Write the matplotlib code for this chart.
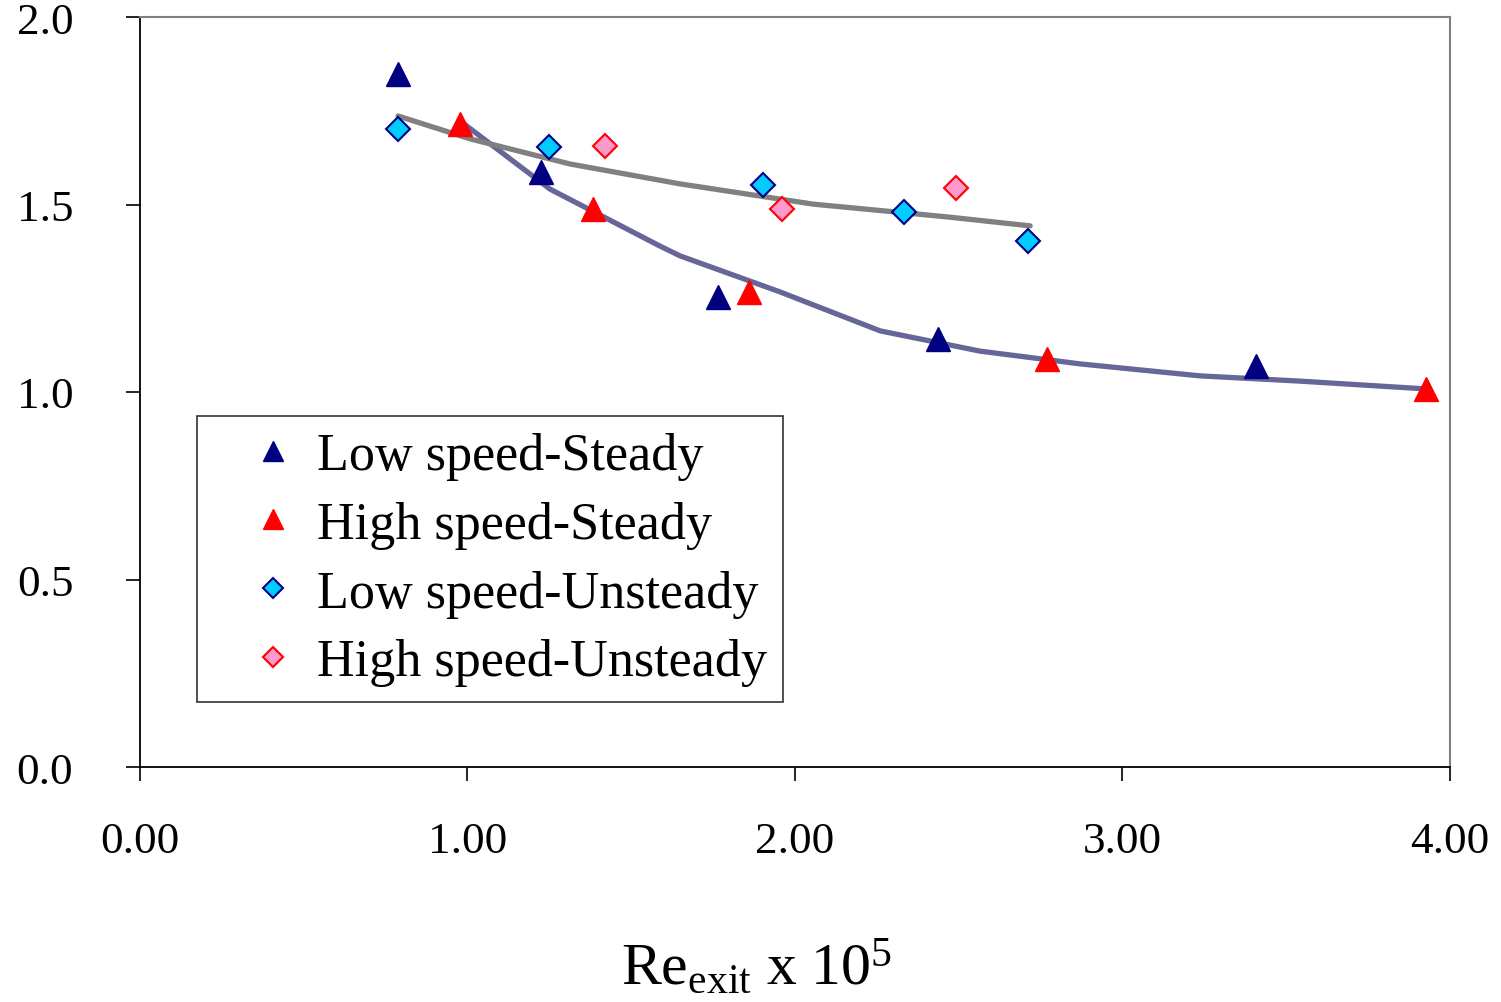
import numpy as np
import matplotlib.pyplot as plt

plt.rcParams['font.family'] = ['Liberation Serif', 'DejaVu Serif']
plt.rcParams['mathtext.fontset'] = 'custom'
plt.rcParams['mathtext.rm'] = 'Liberation Serif'
plt.rcParams['mathtext.it'] = 'Liberation Serif:italic'

# ---- data ----
low_steady_x = [0.788, 1.224, 1.765, 2.437, 3.408]
low_steady_y = [1.848, 1.587, 1.253, 1.141, 1.069]

high_steady_x = [0.977, 1.383, 1.860, 2.769, 3.927]
high_steady_y = [1.715, 1.488, 1.267, 1.088, 1.008]

low_unsteady_x = [0.788, 1.249, 1.902, 2.333, 2.711]
low_unsteady_y = [1.701, 1.653, 1.552, 1.480, 1.403]

high_unsteady_x = [1.420, 1.960, 2.492]
high_unsteady_y = [1.656, 1.488, 1.544]

# trend lines
steady_fit_x = [0.977, 1.252, 1.588, 1.649, 1.954, 2.260, 2.565, 2.870, 3.237, 3.542, 3.930]
steady_fit_y = [1.723, 1.541, 1.389, 1.363, 1.267, 1.163, 1.109, 1.075, 1.043, 1.029, 1.008]

unsteady_fit_x = [0.788, 1.008, 1.313, 1.649, 2.055, 2.464, 2.718]
unsteady_fit_y = [1.736, 1.675, 1.608, 1.555, 1.501, 1.467, 1.443]

x_ticks = [0, 1, 2, 3, 4]
y_ticks = [0.0, 0.5, 1.0, 1.5, 2.0]

# ---- figure ----
fig = plt.figure(figsize=(15.01, 10.03), dpi=100)
ax = fig.add_axes([140 / 1501, 1 - 768 / 1003, 1310 / 1501, 750 / 1003])

ax.plot(steady_fit_x, steady_fit_y, color='#666699', lw=3.8, solid_capstyle='round',
        solid_joinstyle='round', zorder=2)
ax.plot(unsteady_fit_x, unsteady_fit_y, color='#808080', lw=3.8, solid_capstyle='round',
        solid_joinstyle='round', zorder=2)

ax.plot(low_steady_x, low_steady_y, ls='none', marker='^', ms=17, color='#000080',
        mec='#000080', label='Low speed-Steady', zorder=3)
ax.plot(high_steady_x, high_steady_y, ls='none', marker='^', ms=17, color='#FF0000',
        mec='#FF0000', label='High speed-Steady', zorder=3)
ax.plot(low_unsteady_x, low_unsteady_y, ls='none', marker='D', ms=12.5, mfc='#00CCFF',
        mec='#000080', mew=1.5, label='Low speed-Unsteady', zorder=3)
ax.plot(high_unsteady_x, high_unsteady_y, ls='none', marker='D', ms=12.5, mfc='#FF99CC',
        mec='#FF0000', mew=1.5, label='High speed-Unsteady', zorder=3)

ax.set_xlim(0, 4)
ax.set_ylim(0, 2)
ax.set_xticks(x_ticks)
ax.set_xticklabels([f"{v:.2f}" for v in x_ticks])
ax.set_yticks(y_ticks)
ax.set_yticklabels([f"{v:.1f}" for v in y_ticks])
ax.tick_params(axis='both', direction='out', length=10, width=1.2, labelsize=32.5, colors='black')
ax.tick_params(axis='y', pad=38)
ax.tick_params(axis='x', pad=29)

for side in ['left', 'bottom']:
    ax.spines[side].set_color('black')
    ax.spines[side].set_linewidth(1.3)
for side in ['top', 'right']:
    ax.spines[side].set_color('#808080')
    ax.spines[side].set_linewidth(1.5)

leg = ax.legend(loc='lower left', bbox_to_anchor=(0.0435, 0.0867), borderaxespad=0,
                fontsize=37.5, frameon=True, fancybox=False, edgecolor='black',
                borderpad=0.3, handlelength=2.3, handletextpad=-0.3, labelspacing=0.4,
                markerscale=0.82)
leg.get_frame().set_linewidth(1.2)

fig.text(757 / 1501, 1 - 985 / 1003, r"$\mathrm{Re_{exit}\ x\ 10^{5}}$", fontsize=43,
         ha='center', va='baseline')

fig.savefig('out.png', dpi=100)
